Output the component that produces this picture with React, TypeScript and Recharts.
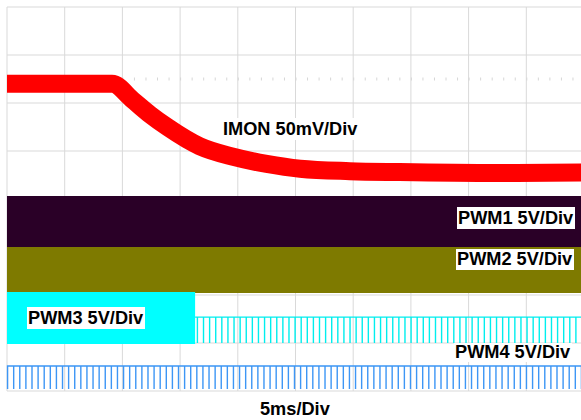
import React from 'react';
import {
  ComposedChart, Line, Area, XAxis, YAxis, CartesianGrid, ReferenceLine,
} from 'recharts';

// time axis in ms (5ms/Div, 10 divisions), vertical axis in divisions (8 divisions)
const TIME_TICKS = [0, 5, 10, 15, 20, 25, 30, 35, 40, 45, 50];
const DIV_TICKS = [0, 1, 2, 3, 4, 5, 6, 7, 8];

// IMON trace (centre of the noisy band)
const IMON_TIME_MS = [0, 9.1, 10.9, 12.4, 13.9, 16.7, 19.6, 22.5, 25.4, 29.7, 34, 42.7, 50];
const IMON_DIV = [6.4, 6.4, 6.06, 5.76, 5.5, 5.1, 4.88, 4.73, 4.63, 4.58, 4.56, 4.54, 4.55];

// PWM1 / PWM2 switch fast enough to show as solid bands
const BAND_TIME_MS = [0, 50];
const PWM1_LOW = [3.0, 3.0];
const PWM1_HIGH = [4.06, 4.06];
const PWM2_LOW = [2.04, 2.04];
const PWM2_HIGH = [3.0, 3.0];

// PWM3: solid band until it drops out, then a narrow pulse train
const PWM3_BAND_TIME_MS = [0, 16.3];
const PWM3_BAND_LOW = [0.98, 0.98];
const PWM3_BAND_HIGH = [2.06, 2.06];
const PWM3_PULSE_START_MS = 16.3;
const PWM3_FIRST_PULSE_MS = 16.5;
const PWM3_HIGH = 1.54;
const PWM3_LOW = 1.0;

// PWM4: pulse train over the whole record
const PWM4_PULSE_START_MS = 0;
const PWM4_FIRST_PULSE_MS = 0.05;
const PWM4_HIGH = 0.52;
const PWM4_LOW = 0.04;

const PULSE_PERIOD_MS = 0.529;
const TRIGGER_LEVEL_DIV = 6.5;

const imonData = IMON_TIME_MS.map((t, i) => ({ t, v: IMON_DIV[i] }));
const band = (times: number[], lo: number[], hi: number[]) =>
  times.map((t, i) => ({ t, range: [lo[i], hi[i]] }));

const pwm1Data = band(BAND_TIME_MS, PWM1_LOW, PWM1_HIGH);
const pwm2Data = band(BAND_TIME_MS, PWM2_LOW, PWM2_HIGH);
const pwm3BandData = band(PWM3_BAND_TIME_MS, PWM3_BAND_LOW, PWM3_BAND_HIGH);

function pulseTrain(start: number, first: number, hi: number, lo: number) {
  const pts: { t: number; v: number }[] = [{ t: start, v: hi }];
  for (let t = first; t < 50; t += PULSE_PERIOD_MS) {
    pts.push({ t, v: hi }, { t, v: lo }, { t, v: hi });
  }
  pts.push({ t: 50, v: hi });
  return pts;
}

const pwm3Pulses = pulseTrain(PWM3_PULSE_START_MS, PWM3_FIRST_PULSE_MS, PWM3_HIGH, PWM3_LOW);
const pwm4Pulses = pulseTrain(PWM4_PULSE_START_MS, PWM4_FIRST_PULSE_MS, PWM4_HIGH, PWM4_LOW);

const labelStyle: React.CSSProperties = {
  position: 'absolute',
  fontFamily: '"Liberation Sans", Arial, sans-serif',
  fontWeight: 'bold',
  fontSize: 18.2,
  lineHeight: '22px',
  color: '#000',
  background: '#fff',
  whiteSpace: 'nowrap',
  paddingLeft: 1,
  paddingRight: 2,
};

export default function App() {
  return (
    <div
      style={{
        position: 'absolute', left: 0, top: 0, width: 581, height: 420,
        overflow: 'hidden', background: '#fff',
      }}
    >
      <ComposedChart width={600} height={420} margin={{ top: 7, right: 16, left: 7, bottom: 29 }}>
        <XAxis type="number" dataKey="t" domain={[0, 50]} ticks={TIME_TICKS} hide allowDuplicatedCategory={false} />
        <YAxis type="number" domain={[0, 8]} ticks={DIV_TICKS} hide />
        <CartesianGrid stroke="#d9d9d9" strokeWidth={1} />
        <ReferenceLine y={TRIGGER_LEVEL_DIV} stroke="#d6d6d6" strokeWidth={3} strokeDasharray="1 10.54" />
        <Line
          data={imonData} dataKey="v" type="monotone" stroke="#ff0000" strokeWidth={18}
          dot={false} activeDot={false} isAnimationActive={false}
        />
        <Area
          data={pwm1Data} dataKey="range" type="linear" stroke="none" fill="#2a0027" fillOpacity={1}
          dot={false} activeDot={false} isAnimationActive={false}
        />
        <Area
          data={pwm2Data} dataKey="range" type="linear" stroke="none" fill="#7e7a00" fillOpacity={1}
          dot={false} activeDot={false} isAnimationActive={false}
        />
        <Area
          data={pwm3BandData} dataKey="range" type="linear" stroke="none" fill="#00ffff" fillOpacity={1}
          dot={false} activeDot={false} isAnimationActive={false}
        />
        <Line
          data={pwm3Pulses} dataKey="v" type="linear" stroke="#00eeee" strokeWidth={1.4}
          dot={false} activeDot={false} isAnimationActive={false}
        />
        <Line
          data={pwm4Pulses} dataKey="v" type="linear" stroke="#3d96f5" strokeWidth={1.4}
          dot={false} activeDot={false} isAnimationActive={false}
        />
      </ComposedChart>
      <div style={{ ...labelStyle, left: 222, top: 118 }}>IMON 50mV/Div</div>
      <div style={{ ...labelStyle, left: 457, top: 207 }}>PWM1 5V/Div</div>
      <div style={{ ...labelStyle, left: 456, top: 249, lineHeight: '21px' }}>PWM2 5V/Div</div>
      <div style={{ ...labelStyle, left: 27, top: 307 }}>PWM3 5V/Div</div>
      <div style={{ ...labelStyle, left: 454, top: 343, lineHeight: '19px' }}>PWM4 5V/Div</div>
      <div style={{ ...labelStyle, left: 259, top: 398, background: 'transparent' }}>5ms/Div</div>
    </div>
  );
}
